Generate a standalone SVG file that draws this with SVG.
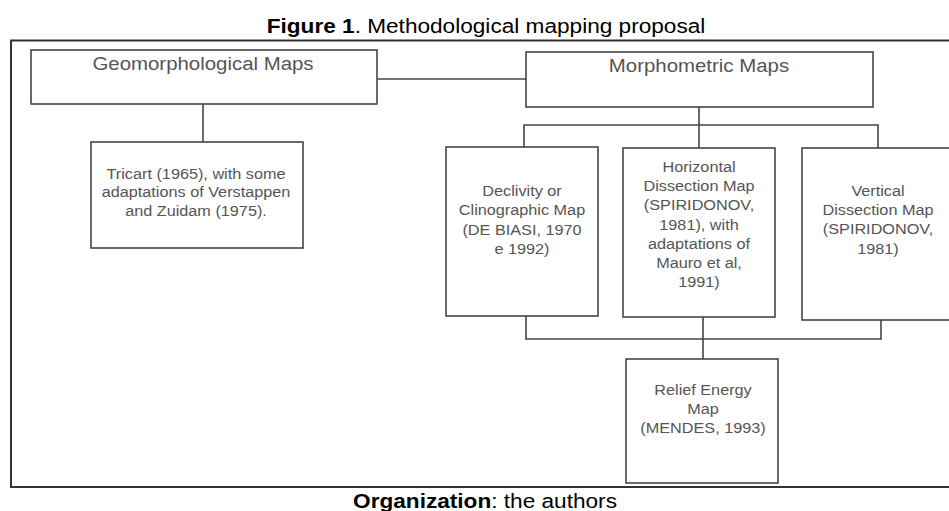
<svg xmlns="http://www.w3.org/2000/svg" width="949" height="511" viewBox="0 0 949 511">
<style>
  .box { fill: #ffffff; stroke: #454545; stroke-width: 1.6; }
  .frame { fill: #ffffff; stroke: #333333; stroke-width: 2; }
  .conn { fill: none; stroke: #454545; stroke-width: 1.6; }
  .lbl { font-family: "Liberation Sans", Arial, sans-serif; font-size: 14px; fill: #555555; text-anchor: middle; }
  .hdr { font-family: "Liberation Sans", Arial, sans-serif; font-size: 17.6px; fill: #555555; text-anchor: middle; }
  .cap { font-family: "Liberation Sans", Arial, sans-serif; font-size: 19.5px; fill: #000000; text-anchor: middle; }
  .b { font-weight: bold; }
</style>
<rect x="0" y="0" width="949" height="511" fill="#ffffff"/>
<text class="cap" transform="translate(486,33) scale(1.16,1)"><tspan class="b">Figure 1</tspan>. Methodological mapping proposal</text>
<rect class="frame" x="11" y="40.5" width="950" height="446.5"/>
<g id="connectors">
  <line class="conn" x1="377" y1="79" x2="526" y2="79"/>
  <line class="conn" x1="203" y1="104" x2="203" y2="142"/>
  <line class="conn" x1="699" y1="107" x2="699" y2="125"/>
  <polyline class="conn" points="524,147 524,125 878,125 878,148"/>
  <line class="conn" x1="699" y1="125" x2="699" y2="148"/>
  <polyline class="conn" points="526,316 526,339 881,339 881,320"/>
  <line class="conn" x1="703" y1="317" x2="703" y2="359"/>
</g>
<g id="geomorphological">
  <rect class="box" x="31" y="50" width="346" height="54"/>
  <text class="hdr" transform="translate(203,70) scale(1.16,1)">Geomorphological Maps</text>
</g>
<g id="morphometric">
  <rect class="box" x="526" y="52" width="347" height="55"/>
  <text class="hdr" transform="translate(699,72) scale(1.16,1)">Morphometric Maps</text>
</g>
<g id="tricart">
  <rect class="box" x="91" y="142" width="212" height="106"/>
  <text class="lbl" transform="translate(196,179) scale(1.16,1)"><tspan x="0" dy="0">Tricart (1965), with some</tspan><tspan x="0" dy="18.5">adaptations of Verstappen</tspan><tspan x="0" dy="18.5">and Zuidam (1975).</tspan></text>
</g>
<g id="declivity">
  <rect class="box" x="446" y="147" width="152" height="169"/>
  <text class="lbl" transform="translate(522,196) scale(1.16,1)"><tspan x="0" dy="0">Declivity or</tspan><tspan x="0" dy="19.3">Clinographic Map</tspan><tspan x="0" dy="19.3">(DE BIASI, 1970</tspan><tspan x="0" dy="19.3">e 1992)</tspan></text>
</g>
<g id="horizontal">
  <rect class="box" x="623" y="148" width="152" height="169"/>
  <text class="lbl" transform="translate(699,172) scale(1.16,1)"><tspan x="0" dy="0">Horizontal</tspan><tspan x="0" dy="19.2">Dissection Map</tspan><tspan x="0" dy="19.2">(SPIRIDONOV,</tspan><tspan x="0" dy="19.2">1981), with</tspan><tspan x="0" dy="19.2">adaptations of</tspan><tspan x="0" dy="19.2">Mauro et al,</tspan><tspan x="0" dy="19.2">1991)</tspan></text>
</g>
<g id="vertical">
  <rect class="box" x="802" y="148" width="152" height="172"/>
  <text class="lbl" transform="translate(878,196) scale(1.16,1)"><tspan x="0" dy="0">Vertical</tspan><tspan x="0" dy="19.2">Dissection Map</tspan><tspan x="0" dy="19.2">(SPIRIDONOV,</tspan><tspan x="0" dy="19.2">1981)</tspan></text>
</g>
<g id="relief">
  <rect class="box" x="626" y="359" width="152" height="124"/>
  <text class="lbl" transform="translate(703,395) scale(1.16,1)"><tspan x="0" dy="0">Relief Energy</tspan><tspan x="0" dy="19">Map</tspan><tspan x="0" dy="19">(MENDES, 1993)</tspan></text>
</g>
<text class="cap" transform="translate(485,508) scale(1.16,1)"><tspan class="b">Organization</tspan>: the authors</text>
</svg>
